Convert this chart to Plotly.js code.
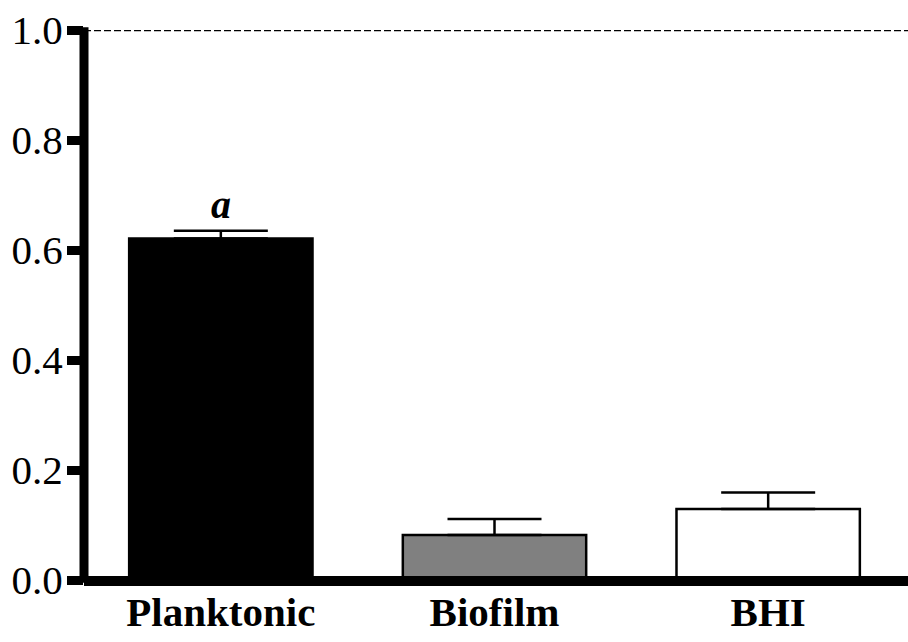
<!DOCTYPE html>
<html>
<head>
<meta charset="utf-8">
<script src="https://cdn.plot.ly/plotly-3.0.1.min.js"></script>
<style>html,body{margin:0;padding:0;background:#fff;}#chart{width:908px;height:642px;}</style>
</head>
<body>
<div id="chart"></div>
<script>
const categories = ["Planktonic", "Biofilm", "BHI"];
const values = [0.621, 0.082, 0.129];
const errors = [0.014, 0.029, 0.030];
const barColors = ["#000000", "#808080", "#ffffff"];
const yTickVals = [0.0, 0.2, 0.4, 0.6, 0.8, 1.0];
const yTickText = ["0.0", "0.2", "0.4", "0.6", "0.8", "1.0"];
const sigLabels = ["a", "", ""];

const SERIF = "'Liberation Serif', 'Times New Roman', Times, serif";

const trace = {
  type: "bar",
  x: categories,
  y: values,
  marker: { color: barColors, line: { color: "#000", width: 2.5 } },
  error_y: {
    type: "data",
    array: errors,
    arrayminus: errors.map(() => 0),
    symmetric: false,
    color: "#000",
    thickness: 2.5,
    width: 47
  },
  hoverinfo: "none"
};

const annotations = categories.map((c, i) => ({
  x: c, y: values[i] + errors[i], xref: "x", yref: "y",
  text: sigLabels[i] ? "<b><i>" + sigLabels[i] + "</i></b>" : "",
  showarrow: false, yanchor: "bottom", yshift: 2,
  font: { family: SERIF, size: 40, color: "#000" }
})).filter(a => a.text);

const layout = {
  width: 908, height: 642,
  margin: { l: 84, r: 3, t: 30, b: 62, pad: 0 },
  paper_bgcolor: "#fff", plot_bgcolor: "#fff",
  showlegend: false,
  bargap: 0.33,
  font: { family: SERIF, color: "#000" },
  xaxis: {
    type: "category", range: [-0.5, 2.5],
    showline: false, showgrid: false, zeroline: false, ticks: "",
    tickfont: { family: SERIF, size: 41, color: "#000", weight: "bold" },
    ticklabelstandoff: 4
  },
  yaxis: {
    range: [0, 1],
    showline: false, showgrid: false, zeroline: false,
    ticks: "outside", ticklen: 16, tickwidth: 9, tickcolor: "#000",
    tickvals: yTickVals, ticktext: yTickText,
    tickfont: { family: SERIF, size: 41, color: "#000" },
    ticklabelstandoff: -4
  },
  shapes: [
    { type: "line", xref: "paper", yref: "y", x0: 0, x1: 1.01, y0: 1, y1: 1,
      line: { color: "#000", width: 2.5, dash: "7px,3px" }, layer: "below" },
    { type: "line", xref: "paper", yref: "paper", x0: 0, x1: 0, y0: -0.005, y1: 1.005,
      line: { color: "#000", width: 9 }, layer: "above" },
    { type: "line", xref: "paper", yref: "paper", x0: 0, x1: 1.01, y0: -0.002, y1: -0.002,
      line: { color: "#000", width: 10 }, layer: "above" }
  ],
  annotations: annotations
};

Plotly.newPlot("chart", [trace], layout, { displayModeBar: false, staticPlot: true });
</script>
</body>
</html>
